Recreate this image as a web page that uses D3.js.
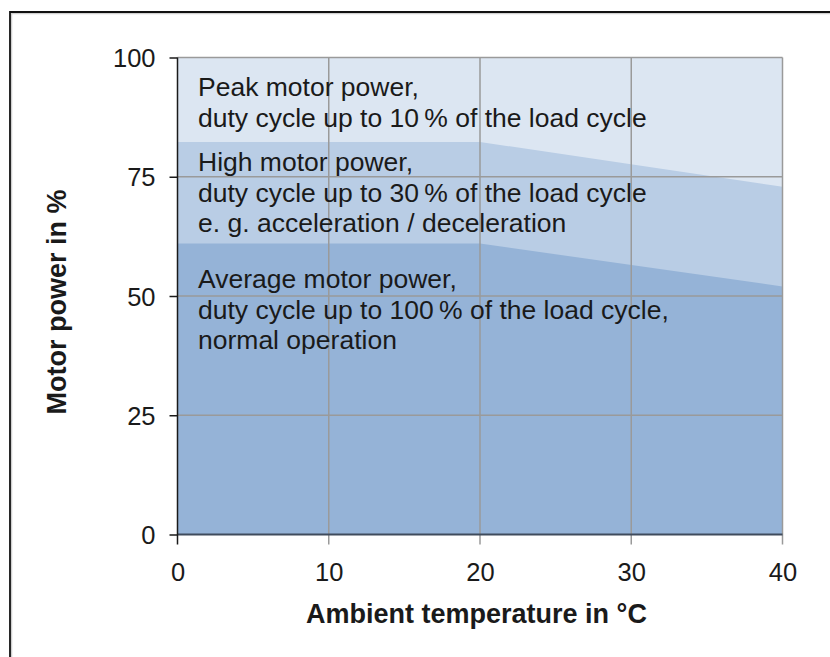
<!DOCTYPE html>
<html>
<head>
<meta charset="utf-8">
<script src="https://cdn.jsdelivr.net/npm/d3@7"></script>
<style>
  html, body { margin: 0; padding: 0; background: #fff; }
  svg { display: block; }
  text { font-family: "Liberation Sans", Arial, sans-serif; fill: #1a1a1a; }
</style>
</head>
<body>
<svg id="chart" width="830" height="657"></svg>
<script>
// ---- data ----
const temperatures = [0, 20, 40];
const peakPower = [100, 100, 100];
const highPower = [82.3, 82.3, 72.9];
const averagePower = [61, 61, 52];

const xTickValues = [0, 10, 20, 30, 40];
const yTickValues = [0, 25, 50, 75, 100];

const peakLabel = ["Peak motor power,", "duty cycle up to 10\u2009% of the load cycle"];
const highLabel = ["High motor power,", "duty cycle up to 30\u2009% of the load cycle", "e. g. acceleration / deceleration"];
const averageLabel = ["Average motor power,", "duty cycle up to 100\u2009% of the load cycle,", "normal operation"];

const xTitle = "Ambient temperature in \u00B0C";
const yTitle = "Motor power in %";

// ---- layout ----
const svg = d3.select("#chart");
const x = d3.scaleLinear().domain([0, 40]).range([177.5, 782.5]);
const y = d3.scaleLinear().domain([0, 100]).range([534.5, 57.5]);

// frame
svg.append("path").attr("d", "M11.5,657 V13.5 H830").attr("fill", "none")
  .attr("stroke", "#d0d0d0").attr("stroke-width", 1.5);
svg.append("path").attr("d", "M10,657 V12 H830").attr("fill", "none")
  .attr("stroke", "#111").attr("stroke-width", 1.8);

// areas
const series = [
  { vals: peakPower, color: "#dce6f2" },
  { vals: highPower, color: "#b9cde5" },
  { vals: averagePower, color: "#95b3d7" }
];
const area = d3.area().x((d, i) => x(temperatures[i])).y0(y(0)).y1(d => y(d));
svg.selectAll("path.area").data(series).enter().append("path")
  .attr("class", "area")
  .attr("d", d => area(d.vals))
  .attr("fill", d => d.color);

// gridlines
const grid = svg.append("g").attr("stroke", "#9a9a9a").attr("stroke-width", 1.5);
grid.selectAll("line.h").data(yTickValues.filter(v => v > 0)).enter().append("line")
  .attr("x1", x(0)).attr("x2", x(40)).attr("y1", d => y(d)).attr("y2", d => y(d));
grid.selectAll("line.v").data(xTickValues.filter(v => v > 0)).enter().append("line")
  .attr("x1", d => x(d)).attr("x2", d => x(d)).attr("y1", y(100)).attr("y2", y(0) + 10);

// x axis line
svg.append("line").attr("x1", x(0)).attr("x2", x(40)).attr("y1", y(0)).attr("y2", y(0))
  .attr("stroke", "#3f4b5c").attr("stroke-width", 2);

// y axis
const yAxis = d3.axisLeft(y).tickValues(yTickValues).tickSize(8).tickPadding(14).tickFormat(d3.format("d"));
const gy = svg.append("g").attr("transform", `translate(${x(0)},0)`).call(yAxis);
gy.select(".domain").remove();
gy.append("line").attr("x1", 0).attr("x2", 0).attr("y1", y(100)).attr("y2", y(0) + 10)
  .attr("stroke", "#1a1a1a").attr("stroke-width", 1.5);
gy.selectAll(".tick line").attr("stroke", "#1a1a1a").attr("stroke-width", 1.5);
gy.selectAll(".tick text").attr("font-size", 25.5).attr("fill", "#1a1a1a")
  .attr("font-family", "Liberation Sans, Arial, sans-serif").attr("dy", "0.36em");

// x tick labels
const xAxis = d3.axisBottom(x).tickValues(xTickValues).tickSize(0).tickPadding(0).tickFormat(d3.format("d"));
const gx = svg.append("g").attr("transform", `translate(0,${y(0)})`).call(xAxis);
gx.select(".domain").remove();
gx.selectAll(".tick text").attr("font-size", 25.5).attr("fill", "#1a1a1a")
  .attr("font-family", "Liberation Sans, Arial, sans-serif").attr("y", 46.5).attr("dy", 0);

// area labels
function label(lines, baseline) {
  svg.append("g").selectAll("text").data(lines).enter().append("text")
    .attr("x", 198).attr("y", (d, i) => baseline + i * 30.5)
    .attr("font-size", 26.5).text(d => d);
}
label(peakLabel, 96);
label(highLabel, 171);
label(averageLabel, 288);

// axis titles
svg.append("text").attr("x", 476.5).attr("y", 623).attr("text-anchor", "middle")
  .attr("font-size", 27).attr("font-weight", "bold").text(xTitle);
svg.append("text").attr("transform", "translate(66,302) rotate(-90)").attr("text-anchor", "middle")
  .attr("font-size", 27).attr("font-weight", "bold").text(yTitle);
</script>
</body>
</html>
